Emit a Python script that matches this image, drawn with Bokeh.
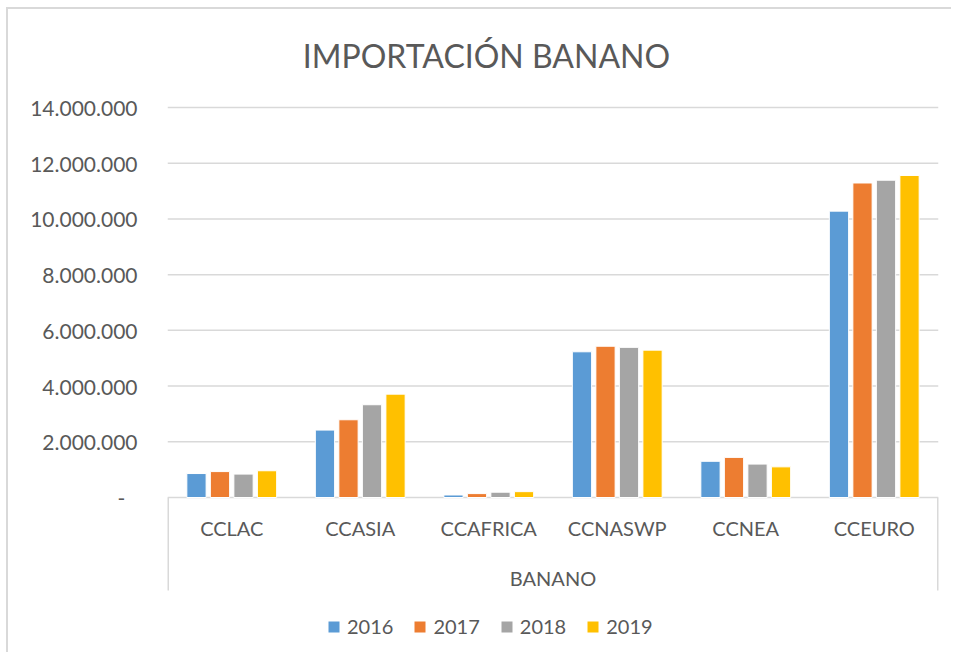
from bokeh.plotting import figure
from bokeh.models import (FactorRange, Range1d, ColumnDataSource, FixedTicker,
                          Legend, LegendItem)
from bokeh.transform import dodge
from bokeh.core.properties import value
from bokeh.embed import file_html
from bokeh.resources import INLINE

# ---------------- data ----------------
categories = ["CCLAC", "CCASIA", "CCAFRICA", "CCNASWP", "CCNEA", "CCEURO"]
years = ["2016", "2017", "2018", "2019"]
v2016 = [860000, 2420000, 90000, 5230000, 1300000, 10280000]
v2017 = [930000, 2790000, 140000, 5430000, 1440000, 11290000]
v2018 = [840000, 3330000, 190000, 5390000, 1200000, 11390000]
v2019 = [960000, 3710000, 210000, 5290000, 1100000, 11560000]
group_label = "BANANO"
title_text = "IMPORTACIÓN BANANO"
y_ticks = [0, 2000000, 4000000, 6000000, 8000000, 10000000, 12000000, 14000000]
y_tick_labels = ["-\u2007", "2.000.000", "4.000.000", "6.000.000", "8.000.000",
                 "10.000.000", "12.000.000", "14.000.000"]

colors = ["#5B9BD5", "#ED7D31", "#A5A5A5", "#FFC000"]
text_color = "#595959"
grid_color = "#D9D9D9"
FONT = "Lato"

# ---------------- layout geometry ----------------
W, H = 945, 645
FRAME_L, FRAME_R = 159, 930           # canvas x of the category span
PX_PER_UNIT_Y = 390.0 / 14000000      # pixels per data unit
top_px = 98       # px from frame top to the 14M line
bottom_px = 157   # px from the 0 line to the frame bottom
y_end = 14000000 + top_px / PX_PER_UNIT_Y
y_start = -bottom_px / PX_PER_UNIT_Y

src = ColumnDataSource(dict(cat=categories, v2016=v2016, v2017=v2017,
                            v2018=v2018, v2019=v2019))

x_range = FactorRange(factors=categories, range_padding=0)

p = figure(width=W, height=H, x_range=x_range,
           y_range=Range1d(y_start, y_end),
           output_backend="svg", toolbar_location=None,
           min_border_left=FRAME_L, min_border_right=W - FRAME_R,
           min_border_top=0, min_border_bottom=0)
p.title.visible = False
p.outline_line_color = None
p.xaxis.visible = False
p.xgrid.visible = False
p.ygrid.visible = False
p.background_fill_color = "white"
p.border_fill_color = "white"
p.styles = {"border-top": "2px solid #D9D9D9", "border-left": "2px solid #D9D9D9",
            "margin-left": "6px", "margin-top": "7px"}

# y axis
yax = p.yaxis[0]
yax.ticker = FixedTicker(ticks=y_ticks)
yax.major_label_overrides = {t: l for t, l in zip(y_ticks, y_tick_labels)}
yax.axis_line_color = None
yax.major_tick_line_color = None
yax.minor_tick_line_color = None
yax.major_tick_in = 0
yax.major_tick_out = 0
yax.major_label_standoff = 30
yax.major_label_text_font = FONT
yax.major_label_text_font_size = "21px"
yax.major_label_text_color = text_color

# grid lines (within the category span)
n = len(categories)
grid_src = ColumnDataSource(dict(x0=[0] * len(y_ticks), x1=[n] * len(y_ticks),
                                 y=y_ticks))
p.segment(x0="x0", x1="x1", y0="y", y1="y", source=grid_src,
          line_color=grid_color, line_width=1.5)

# category axis box sides
side_src = ColumnDataSource(dict(x=[0, n], y0=[0, 0],
                                 y1=[-93 / PX_PER_UNIT_Y, -93 / PX_PER_UNIT_Y]))
p.segment(x0="x", x1="x", y0="y0", y1="y1", source=side_src,
          line_color=grid_color, line_width=3)

# bars
offsets = [-0.2745, -0.0915, 0.0915, 0.2745]
renderers = []
for yr, col, off in zip(years, colors, offsets):
    r = p.vbar(x=dodge("cat", off, range=p.x_range), top="v" + yr, width=0.15,
               source=src, fill_color=col, line_color="white", line_width=1)
    renderers.append(r)

# category labels
lab_src = ColumnDataSource(dict(cat=categories,
                                y=[-30 / PX_PER_UNIT_Y] * n))
p.text(x="cat", y="y", text="cat", source=lab_src, text_align="center",
       text_baseline="middle", text_font=value(FONT), text_font_size="20px",
       text_color=text_color)

# group label
p.text(x=[n / 2], y=[-80 / PX_PER_UNIT_Y], text=[group_label],
       text_align="center", text_baseline="middle", text_font=value(FONT),
       text_font_size="20px", text_color=text_color)

# title
unit_px = (FRAME_R - FRAME_L) / n
title_x = (486 - 167) / unit_px
p.text(x=[title_x], y=[14000000 + 52 / PX_PER_UNIT_Y], text=[title_text],
       text_align="center", text_baseline="middle", text_font=value(FONT),
       text_font_size="32px", text_color=text_color)

# legend
legend = Legend(items=[LegendItem(label=yr, renderers=[r])
                       for yr, r in zip(years, renderers)],
                orientation="horizontal", location=(159, 16),
                glyph_width=15, glyph_height=15, label_standoff=6, spacing=19,
                padding=0, margin=0, border_line_color=None,
                background_fill_alpha=0,
                label_text_font=FONT, label_text_font_size="20px",
                label_text_color=text_color)
p.add_layout(legend, "center")

open("out.html", "w").write(file_html(p, INLINE))
